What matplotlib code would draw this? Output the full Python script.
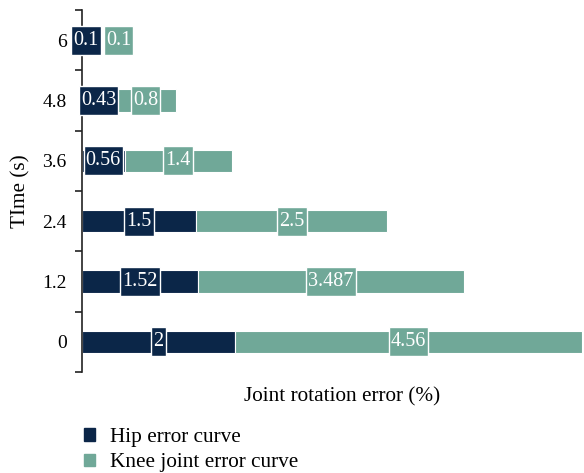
import matplotlib.pyplot as plt
from matplotlib.patches import Patch
from matplotlib.path import Path

# Data
times = ["0", "1.2", "2.4", "3.6", "4.8", "6"]
hip_error = [2, 1.52, 1.5, 0.56, 0.43, 0.1]
knee_error = [4.56, 3.487, 2.5, 1.4, 0.8, 0.1]
hip_labels = ["2", "1.52", "1.5", "0.56", "0.43", "0.1"]
knee_labels = ["4.56", "3.487", "2.5", "1.4", "0.8", "0.1"]

hip_color = "#0b2648"
knee_color = "#70a898"

plt.rcParams["font.family"] = "serif"
plt.rcParams["font.serif"] = ["Liberation Serif", "Times New Roman", "DejaVu Serif"]


# label box: a little padding left/right, more above/below
def label_box(x0, y0, width, height, mutation_size):
    px = 0.11 * mutation_size
    py = 0.25 * mutation_size
    x0, y0 = x0 - px, y0 - py
    x1, y1 = x0 + width + 2 * px, y0 + height + 2 * py
    return Path([(x0, y0), (x1, y0), (x1, y1), (x0, y1), (x0, y0)], closed=True)


fig = plt.figure(figsize=(5.84, 4.73), dpi=100)
ax = fig.add_axes([82 / 584, 101 / 473, 502 / 584, 362 / 473])

y = list(range(len(times)))
ax.barh(y, hip_error, height=0.37, color=hip_color, edgecolor="white", linewidth=0.8)
ax.barh(y, knee_error, left=hip_error, height=0.37, color=knee_color,
        edgecolor="white", linewidth=0.8)

ax.set_xlim(0, 6.58)
ax.set_ylim(-0.5, 5.5)

# value labels in boxes, centred on each segment
fig.canvas.draw()
renderer = fig.canvas.get_renderer()
pad_px = 0.11 * 14.5 * fig.dpi / 72
for i in y:
    box = dict(boxstyle=label_box, fc=hip_color, ec="white", lw=1)
    t1 = ax.text(hip_error[i] / 2, i, hip_labels[i], ha="center", va="center",
                 color="white", fontsize=14.5, bbox=box, clip_on=False, zorder=5)
    box = dict(boxstyle=label_box, fc=knee_color, ec="white", lw=1)
    t2 = ax.annotate(knee_labels[i], (hip_error[i] + knee_error[i] / 2, i),
                     ha="center", va="center", color="white", fontsize=14.5,
                     bbox=box, textcoords="offset points", xytext=(0, 0), zorder=5)
    # push the knee label right if it would sit on the hip label
    e1 = t1.get_window_extent(renderer)
    e2 = t2.get_window_extent(renderer)
    gap = e2.x0 - e1.x1 - 2 * pad_px
    if gap < 3:
        t2.set_position(((3 - gap) * 72 / fig.dpi, 0))

# axes styling
for s in ["top", "right", "bottom"]:
    ax.spines[s].set_visible(False)
ax.spines["left"].set_color("#222222")
ax.spines["left"].set_linewidth(1.2)
ax.set_xticks([])
ax.set_yticks(y)
ax.set_yticklabels(times, fontsize=14)
ax.set_yticks([v - 0.5 for v in range(len(times) + 1)], minor=True)
ax.tick_params(axis="y", which="major", length=0, pad=11)
ax.tick_params(axis="y", which="minor", length=5, width=1.2, color="#222222")

ax.set_xlabel("Joint rotation error (%)", fontsize=15.3)
ax.xaxis.set_label_coords(0.519, -0.043)
ax.set_ylabel("TIme (s)", fontsize=15.3)
ax.yaxis.set_label_coords(-0.102, 0.5)

handles = [Patch(color=hip_color, label="Hip error curve"),
           Patch(color=knee_color, label="Knee joint error curve")]
fig.legend(handles=handles, loc="upper left", bbox_to_anchor=(84 / 584, 1 - 428 / 473),
           frameon=False, fontsize=15.3, handlelength=0.5, handleheight=0.5,
           handletextpad=0.7, labelspacing=0.3, borderaxespad=0, borderpad=0)

plt.savefig("out.png", dpi=100)
